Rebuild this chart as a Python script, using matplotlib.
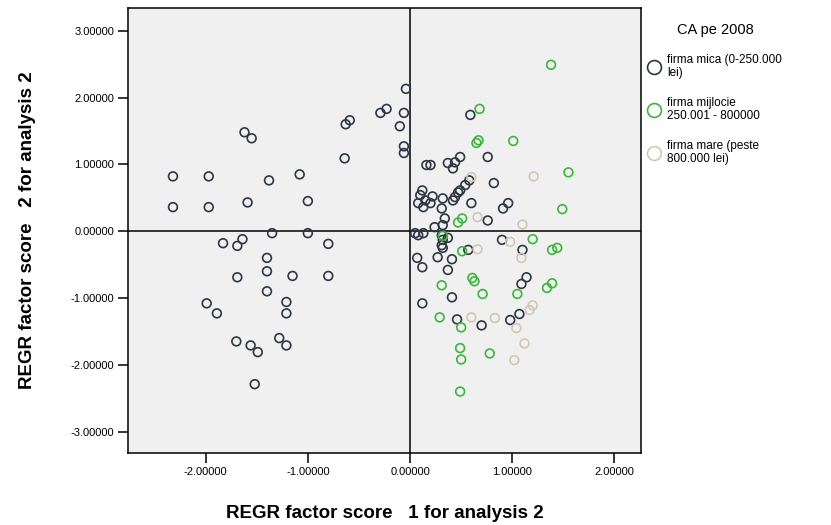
import matplotlib
matplotlib.use("Agg")
import matplotlib.pyplot as plt
from matplotlib.lines import Line2D
from matplotlib.ticker import FormatStrFormatter

plt.rcParams["font.family"] = ["Liberation Sans", "DejaVu Sans"]

# --- data (factor scores) ---
mica_x = [-2.32, -2.32, -1.97, -1.97, -1.62, -1.55, -1.59, -1.38, -1.08, -1.00,
          -1.83, -1.69, -1.64, -1.35, -1.00, -0.80, -1.40, -1.40, -1.69, -1.15,
          -0.80, -1.40, -1.99, -1.89, -1.21, -1.21, -1.70, -1.56, -1.49, -1.28,
          -1.21, -1.52, -0.64, -0.63, -0.59, -0.29, -0.23, -0.10, -0.06, -0.04,
          -0.06, -0.06,
          0.59, 0.76, 0.82, 0.16, 0.20, 0.37, 0.42, 0.49, 0.44, 0.49,
          0.54, 0.58, 0.47, 0.44, 0.60, 0.12, 0.10, 0.15, 0.08, 0.13,
          0.22, 0.20, 0.32, 0.31, 0.42, 0.34, 0.32, 0.76, 0.24, 0.08,
          0.13, 0.05, 0.31, 0.32, 0.31, 0.32, 0.37, 0.57, 0.07, 0.12,
          0.27, 0.41, 0.37, 0.41, 0.12, 0.46, 0.70, 0.96, 0.91, 0.90,
          1.10, 1.14, 1.09, 0.98, 1.07]
mica_y = [0.82, 0.36, 0.82, 0.36, 1.48, 1.39, 0.43, 0.76, 0.85, 0.45,
          -0.18, -0.22, -0.12, -0.03, -0.03, -0.19, -0.40, -0.60, -0.69, -0.67,
          -0.67, -0.90, -1.08, -1.23, -1.06, -1.23, -1.65, -1.71, -1.81, -1.60,
          -1.71, -2.29, 1.09, 1.60, 1.66, 1.77, 1.83, 1.57, 1.77, 2.13,
          1.27, 1.17,
          1.74, 1.11, 0.72, 0.99, 0.99, 1.02, 0.94, 1.11, 1.03, 0.61,
          0.69, 0.76, 0.58, 0.51, 0.42, 0.61, 0.54, 0.46, 0.42, 0.36,
          0.52, 0.42, 0.49, 0.34, 0.46, 0.19, 0.09, 0.16, 0.06, -0.06,
          -0.03, -0.03, -0.06, -0.13, -0.21, -0.25, -0.10, -0.28, -0.40, -0.54,
          -0.39, -0.42, -0.58, -0.99, -1.08, -1.32, -1.41, 0.42, 0.34, -0.13,
          -0.28, -0.69, -0.79, -1.33, -1.24]

mijlocie_x = [0.68, 0.65, 0.67, 1.01, 1.38, 1.55, 1.49, 0.51, 0.47, 0.32,
              0.51, 1.20, 1.39, 1.44, 0.31, 0.61, 0.63, 0.71, 1.05, 1.39,
              1.34, 0.29, 0.50, 0.49, 0.50, 0.49, 0.78]
mijlocie_y = [1.83, 1.32, 1.36, 1.35, 2.49, 0.88, 0.33, 0.19, 0.13, -0.07,
              -0.30, -0.12, -0.28, -0.25, -0.81, -0.70, -0.75, -0.94, -0.94, -0.78,
              -0.85, -1.29, -1.44, -1.75, -1.92, -2.40, -1.83]

mare_x = [0.60, 1.21, 0.66, 1.10, 0.66, 0.98, 1.09, 0.60, 1.20, 1.17,
          0.83, 1.04, 1.12, 1.02]
mare_y = [0.81, 0.82, 0.21, 0.10, -0.27, -0.16, -0.40, -1.29, -1.11, -1.18,
          -1.30, -1.45, -1.68, -1.93]

labels = ["firma mica (0-250.000\nlei)",
          "firma mijlocie\n250.001 - 800000",
          "firma mare (peste\n800.000 lei)"]
colors = ["#2e3644", "#3cb53c", "#cfc8b2"]

x_ticks = [-2, -1, 0, 1, 2]
y_ticks = [-3, -2, -1, 0, 1, 2, 3]

fig = plt.figure(figsize=(8.31, 5.25), dpi=100)
ax = fig.add_axes([128 / 831, 1 - 453 / 525, 513 / 831, 445 / 525])
ax.set_facecolor("#f0f0f0")

groups = [(mica_x, mica_y), (mijlocie_x, mijlocie_y), (mare_x, mare_y)]
for (gx, gy), c in zip(groups, colors):
    ax.scatter(gx, gy, s=40, facecolors="none", edgecolors=c, linewidths=1.2, zorder=3)

ax.axhline(0, color="black", linewidth=1.1, zorder=2)
ax.axvline(0, color="black", linewidth=1.1, zorder=2)

ax.set_xlim(-2.76, 2.26)
ax.set_ylim(-3.32, 3.34)
ax.set_xticks(x_ticks)
ax.set_yticks(y_ticks)
ax.xaxis.set_major_formatter(FormatStrFormatter("%.5f"))
ax.yaxis.set_major_formatter(FormatStrFormatter("%.5f"))
ax.tick_params(direction="out", length=7, width=1.1, labelsize=8, pad=3)
for sp in ax.spines.values():
    sp.set_linewidth(1.1)

ax.set_xlabel("REGR factor score   1 for analysis 2", fontsize=13.5,
              fontweight="bold", labelpad=20)
ax.set_ylabel("REGR factor score   2 for analysis 2", fontsize=13.5,
              fontweight="bold", labelpad=25)

handles = [Line2D([], [], linestyle="none", marker="o", markersize=10,
                  markerfacecolor="none", markeredgecolor=c, markeredgewidth=1.2)
           for c in colors]
leg = fig.legend(handles, labels, title="CA pe 2008", loc="upper left",
                 bbox_to_anchor=(648 / 831, 1 - 23 / 525), frameon=False,
                 fontsize=8.5, title_fontsize=10.5, borderpad=0, borderaxespad=0,
                 handlelength=1.0, handletextpad=0.6, labelspacing=1.45)
leg._legend_box.sep = 12

fig.savefig("out.png", dpi=100)
